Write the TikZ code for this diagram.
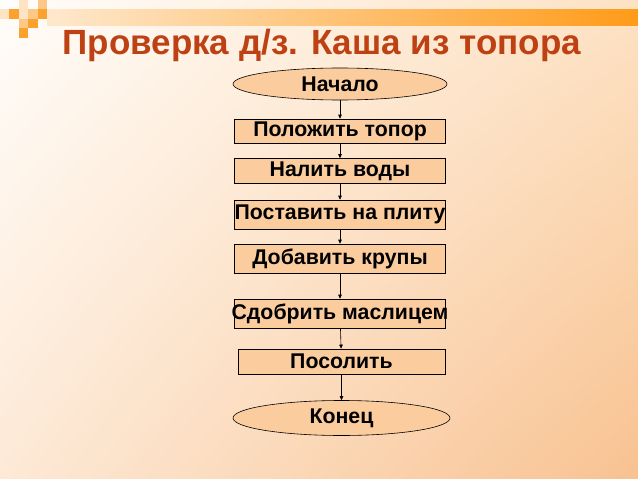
\documentclass[tikz,border=0pt]{standalone}
\usepackage{fontspec}
\setmainfont{Liberation Sans}
\usetikzlibrary{arrows.meta,shapes.geometric,shadings}
\definecolor{titlered}{RGB}{190,65,20}
\definecolor{nodefill}{RGB}{251,205,158}
\definecolor{pixdark}{RGB}{250,162,45}
\definecolor{pixlight}{RGB}{252,200,135}
\definecolor{pixfaint}{RGB}{254,228,195}
\definecolor{barleft}{RGB}{254,232,205}
\definecolor{barright}{RGB}{255,155,25}
\definecolor{bgul}{RGB}{255,253,250}
\definecolor{bgur}{RGB}{253,226,196}
\definecolor{bgll}{RGB}{253,233,214}
\definecolor{bglr}{RGB}{248,194,145}

\begin{document}
\begin{tikzpicture}[x=1pt, y=-1pt, arrows={-Triangle[length=4pt,width=3.5pt]}, line width=0.6pt,
	box/.style={draw, fill=nodefill, rectangle, minimum width=211pt, minimum height=26pt, inner sep=0pt, font=\fontsize{21.3}{25}\selectfont\bfseries},
	oval/.style={draw, fill=nodefill, ellipse, minimum width=214pt, minimum height=32pt, inner sep=0pt, font=\fontsize{21.3}{25}\selectfont\bfseries}]
	\useasboundingbox (0,0) rectangle (638,479);
	\shade[upper left=bgul, upper right=bgur, lower left=bgll, lower right=bglr] (0,0) rectangle (638,479);
	\shade[left color=barleft, right color=barright] (47,9) rectangle (638,25);
	\foreach \i/\j/\c in {1/1/pixdark, 4/1/pixdark, 3/2/pixdark, 2/3/pixdark, 4/0/pixlight, 3/1/pixlight, 2/2/pixlight, 2/0/pixfaint, 0/1/pixfaint, 2/1/pixfaint}
		\fill[\c] (9.4*\i, 9.4*\j) rectangle ++(9.4, 9.4);

	\node [anchor=base west, text=titlered, font=\fontsize{35}{42}\selectfont\bfseries] (title) at (59,54) {Проверка д/з. Каша из топора};

	\node [oval] (start) at (340,84) {Начало};
	\node [box, minimum height=24pt] (put) at (340,131) {Положить топор};
	\node [box, minimum height=25pt] (water) at (340,171) {Налить воды};
	\node [box, minimum height=29pt] (stove) at (340,214.5) {\makebox[0pt]{Поставить на плиту}};
	\node [box, minimum height=29pt] (grain) at (340,258.5) {Добавить крупы};
	\node [box, minimum height=29pt] (butter) at (340,313.5) {\makebox[0pt]{Сдобрить маслицем}};
	\node [box, minimum width=207pt, minimum height=25pt] (salt) at (341.5,361.5) {Посолить};
	\node [oval, minimum width=217pt, minimum height=35pt] (end) at (341.5,418) {Конец};

	\draw (start) -- (put);
	\draw (put) -- (water);
	\draw (water) -- (stove);
	\draw (stove) -- (grain);
	\draw (grain) -- (butter);
	\draw (butter) -- (salt);
	\draw (salt) -- (end);
\end{tikzpicture}
\end{document}
